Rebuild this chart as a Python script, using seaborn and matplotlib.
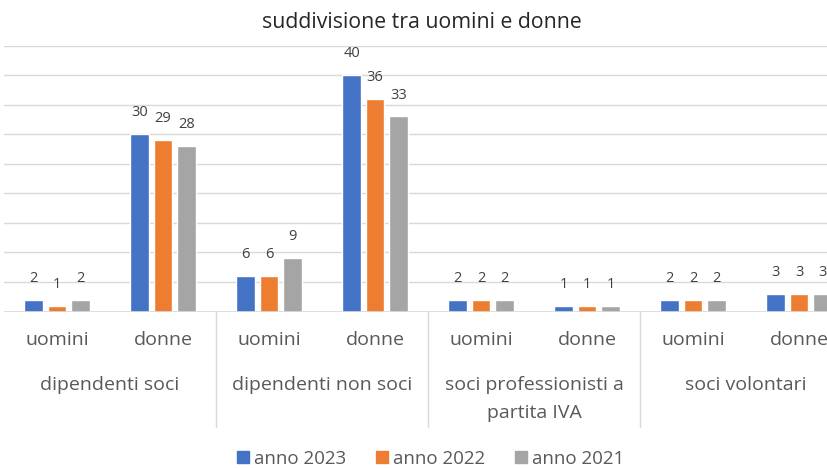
import pandas as pd
import matplotlib
matplotlib.use("Agg")
import matplotlib.pyplot as plt
import seaborn as sns

# data
gruppi = ["dipendenti soci", "dipendenti non soci",
          "soci professionisti a\npartita IVA", "soci volontari"]
sesso = ["uomini", "donne"]
anni = ["anno 2023", "anno 2022", "anno 2021"]
anno_2023 = [2, 30, 6, 40, 2, 1, 2, 3]
anno_2022 = [1, 29, 6, 36, 2, 1, 2, 3]
anno_2021 = [2, 28, 9, 33, 2, 1, 2, 3]
colori = ["#4472C4", "#ED7D31", "#A5A5A5"]

sns.set_theme(style="white")
plt.rcParams['font.family'] = ['Open Sans', 'DejaVu Sans']

cats = [f"{g}|{s}" for g in gruppi for s in sesso]
rows = []
for anno, vals in zip(anni, [anno_2023, anno_2022, anno_2021]):
    for c, v in zip(cats, vals):
        rows.append({"cat": c, "valore": v, "anno": anno})
df = pd.DataFrame(rows)

W, H = 828, 468
fig = plt.figure(figsize=(W / 100, H / 100), dpi=100)
# plot area is wider than the picture: the last group is cut off on the right
ax = fig.add_axes([4 / W, 156.5 / H, 848 / W, 266 / H])

sns.barplot(data=df, x="cat", y="valore", hue="anno", order=cats,
            hue_order=anni, palette=colori, width=0.665, gap=0.21,
            errorbar=None, saturation=1, ax=ax, zorder=3)

for cont in ax.containers:
    ax.bar_label(cont, padding=10, fontsize=10.5, color="#404040")

ax.set_ylim(0, 45)
ax.set_yticks(range(0, 50, 5))
ax.set_yticklabels([])
ax.yaxis.grid(True, color="#D9D9D9", lw=1)
ax.set_axisbelow(True)
ax.axhline(0, color="#D9D9D9", lw=1.2, zorder=4)
sns.despine(ax=ax, left=True, bottom=True)
ax.tick_params(axis="both", length=0)
ax.set_xlim(-0.5, 7.5)
ax.set_xticks(range(len(cats)))
ax.set_xticklabels(sesso * len(gruppi), fontsize=14, color="#595959")
ax.tick_params(axis="x", pad=14)
ax.set_xlabel("")
ax.set_ylabel("")

trans = ax.get_xaxis_transform()
for i, g in enumerate(gruppi):
    ax.text(2 * i + 0.5, -0.243, g, transform=trans, ha="center", va="top",
            fontsize=14, color="#595959", linespacing=1.72)
for xs in [1.5, 3.5, 5.5]:
    ax.plot([xs, xs], [0, -0.435], transform=trans, color="#D9D9D9",
            lw=1, clip_on=False)

ax.get_legend().remove()
handles = [plt.Rectangle((0, 0), 1, 1, color=c) for c in colori]
fig.legend(handles, anni, loc="center", bbox_to_anchor=(431 / W, 1 - 459 / H),
           ncol=3, frameon=False, fontsize=13.5, labelcolor="#595959",
           handlelength=0.6, handleheight=0.6, handletextpad=0.3,
           columnspacing=1.6, borderpad=0.1)

fig.text(422 / W, 1 - 23 / H, "suddivisione tra uomini e donne",
         ha="center", va="center", fontsize=15.3, color="#262626")

fig.savefig("out.png", dpi=100)
